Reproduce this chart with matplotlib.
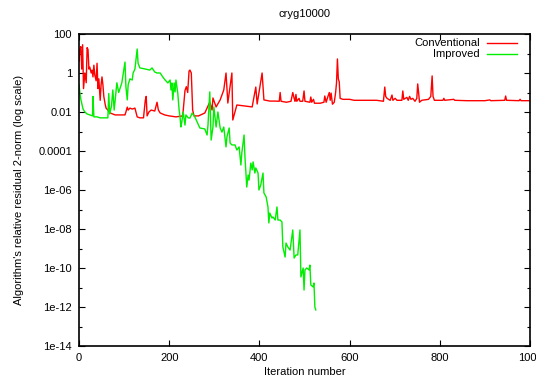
import numpy as np
import matplotlib
matplotlib.use("Agg")
import matplotlib.pyplot as plt
from matplotlib.lines import Line2D
from matplotlib.ticker import NullFormatter

plt.rcParams['font.family'] = ['Liberation Sans', 'DejaVu Sans']

title = "cryg10000"
xlabel = "Iteration number"
ylabel = "Algorithm's relative residual 2-norm (log scale)"
series_names = ["Conventional", "Improved"]

# Conventional: iteration numbers and log10 of residual
conv_iter = [0, 2, 4, 6, 8, 10, 13, 16, 18, 20, 22, 24, 27, 29, 31, 33, 35, 38, 40, 42,
             44, 47, 49, 51, 53, 55, 58, 60, 64, 69, 80, 95, 102, 104, 107, 109, 113, 118,
             124, 129, 135, 143, 147, 149, 151, 155, 160, 168, 173, 176, 180, 190, 200,
             215, 230, 235, 238, 241, 244, 246, 249, 252, 255, 265, 279, 290, 295, 297,
             304, 313, 321, 326, 330, 339, 341, 350, 368, 384, 392, 395, 406, 410, 423,
             435, 444, 446, 448, 460, 470, 474, 477, 479, 481, 483, 488, 490, 496, 499,
             501, 512, 514, 516, 520, 522, 535, 543, 545, 548, 552, 555, 557, 559, 562,
             566, 569, 571, 573, 575, 577, 579, 585, 600, 610, 625, 640, 660, 675, 678,
             680, 683, 690, 694, 696, 701, 705, 716, 718, 720, 727, 730, 733, 736, 740,
             745, 749, 751, 753, 755, 760, 775, 780, 783, 785, 788, 795, 807, 809, 811,
             831, 833, 860, 900, 911, 913, 944, 946, 948, 976, 978, 980, 1000]
conv_log10 = [0.6, 1.2, 1.35, 0.2, 1.45, -0.8, 0.0, -0.5, 1.3, 1.2, 0.2, 0.3, 0.0, 0.15,
              -0.2, 0.4, -0.1, -0.4, 0.5, -0.8, -0.3, -1.4, -0.6, -0.2, -0.6, -1.2, -1.6,
              -1.8, -1.9, -2.05, -2.15, -2.15, -2.15, -2.0, -1.75, -1.9, -1.8, -1.85, -1.8,
              -2.25, -2.3, -2.3, -1.4, -1.2, -2.2, -2.0, -1.9, -1.95, -1.5, -1.9, -2.05,
              -2.15, -2.2, -2.25, -2.2, -0.9, -0.7, -1.0, 0.1, 0.15, 0.0, -1.9, -2.2,
              -2.2, -2.05, -1.49, -1.9, -1.28, -1.74, -1.38, -0.87, 0.0, -1.54, 0.0,
              -2.41, -1.64, -1.69, -1.74, -0.72, -1.59, 0.0, -1.38, -1.44,
              -1.44, -1.45, -1.0, -1.45, -1.5, -1.45, -1.0, -1.3, -1.45, -1.1, -1.45,
              -1.3, -1.45, -1.45, -0.92, -1.45, -1.5, -1.23, -1.5, -1.35, -1.55, -1.55,
              -1.5, -1.18, -1.5, -1.2, -1.0, -1.4, -1.03, -1.6, -1.5, -1.0, -0.5, 0.72,
              -0.3, -0.45, -1.3, -1.35, -1.35, -1.4, -1.4, -1.4, -1.4, -1.45, -0.72,
              -1.2, -1.3, -1.4, -1.13, -1.4, -1.3, -1.4, -1.4, -0.92, -1.35, -1.25, -1.4,
              -1.2, -1.35, -1.3, -1.45, -1.3, -0.56, -1.0, -1.5, -1.4, -1.35, -1.2,
              -0.15, -1.2, -1.4, -1.4, -1.4, -1.3, -1.4, -1.35, -1.4, -1.42, -1.42,
              -1.38, -1.42, -1.4, -1.18, -1.4, -1.42, -1.35, -1.42, -1.42]

# Improved: iteration numbers and log10 of residual
impr_iter = [0, 2, 4, 7, 9, 13, 18, 24, 30, 31, 33, 40, 47, 55, 64, 66, 68, 72, 75, 78,
             84, 88, 95, 102, 104, 107, 109, 113, 118, 120, 124, 129, 131, 135, 146, 157,
             162, 168, 173, 180, 186, 191, 197, 202, 204, 206, 208, 211, 213, 215, 219,
             222, 224, 226, 228, 231, 235, 237, 242, 246, 251, 257, 268, 279, 284, 286,
             290, 293, 297, 299, 304, 308, 313, 317, 321, 326, 328, 333, 335, 339, 346,
             350, 355, 359, 361, 366, 368, 370, 372, 375, 377, 381, 384, 386, 390, 392,
             397, 399, 403, 408, 410, 415, 419, 421, 423, 428, 430, 435, 439, 441, 446,
             450, 452, 457, 459, 463, 468, 474, 477, 481, 485, 490, 492, 497, 499, 501,
             505, 510, 512, 514, 519, 521, 523, 525]
impr_log10 = [-0.6, -1.0, -1.35, -1.65, -1.85, -2.0, -2.1, -2.15, -2.2, -1.2, -2.25, -2.25,
              -2.3, -2.3, -2.3, -1.05, -2.1, -1.7, -0.87, -1.9, -0.5, -1.0, -0.5, 0.56,
              -0.7, -1.38, -0.6, -0.3, -0.36, 0.0, 0.2, 1.23, 0.5, 0.26, 0.21, 0.15, 0.26,
              0.05, 0.0, 0.0, -0.21, -0.36, -0.51, -0.36, -0.87, -0.51, -1.38, -0.51,
              -0.97, -0.36, -1.03, -1.9, -2.26, -2.77, -2.51, -2.0, -2.67, -2.15, -2.3,
              -2.31, -2.05, -2.26, -2.82, -2.87, -3.18, -2.67, -0.97, -3.44, -2.77,
              -1.74, -2.77, -2.0, -2.82, -3.03, -2.77, -3.79, -3.28, -2.82, -3.59,
              -3.69, -3.69, -3.95, -3.79, -4.72, -4.1, -3.18, -4.31, -5.13, -5.85,
              -5.23, -5.49, -4.62, -4.97, -4.56, -5.13, -4.87, -5.13, -6.0, -5.74,
              -5.13, -6.15, -6.36, -6.87, -7.69, -7.18, -7.44, -7.38, -7.54, -6.87,
              -7.54, -7.54, -7.64, -8.92, -9.44, -8.72, -8.92, -9.08, -8.05, -9.49,
              -9.33, -9.33, -8.05, -10.46, -10.0, -11.13, -10.1, -10.0, -10.1, -9.85,
              -10.87, -10.97, -10.77, -12.0, -12.15]

x_ticks = [0, 200, 400, 600, 800, 1000]
y_major = [1e2, 1e0, 1e-2, 1e-4, 1e-6, 1e-8, 1e-10, 1e-12, 1e-14]
y_major_labels = ["100", "1", "0.01", "0.0001", "1e-06", "1e-08", "1e-10", "1e-12", "1e-14"]
y_minor = [1e1, 1e-1, 1e-3, 1e-5, 1e-7, 1e-9, 1e-11, 1e-13]

red = "#ff0000"
green = "#00ee00"

fig = plt.figure(figsize=(5.36, 3.78), dpi=100)
ax = fig.add_axes([79/536, 32/378, 451/536, 312/378])

ax.plot(conv_iter, 10.0 ** np.array(conv_log10), color=red, lw=1.0)
ax.plot(impr_iter, 10.0 ** np.array(impr_log10), color=green, lw=1.0)

ax.set_yscale('log')
ax.set_xlim(0, 1000)
ax.set_ylim(1e-14, 1e2)
ax.set_xticks(x_ticks)
ax.set_xticklabels([str(t) for t in x_ticks])
ax.set_yticks(y_major)
ax.set_yticklabels(y_major_labels)
ax.set_yticks(y_minor, minor=True)
ax.yaxis.set_minor_formatter(NullFormatter())
ax.set_xticks([], minor=True)
ax.tick_params(which='both', direction='in', top=True, right=True, labelsize=8,
               colors='black', pad=5)
ax.tick_params(which='major', length=4.5, width=0.8)
ax.tick_params(which='minor', length=2.5, width=0.8)
for s in ax.spines.values():
    s.set_linewidth(1.2)

ax.set_title(title, fontsize=8, pad=12)
ax.set_xlabel(xlabel, fontsize=8, labelpad=3)
ax.set_ylabel(ylabel, fontsize=8, labelpad=10)

# gnuplot-style key: right-aligned text followed by line sample
for i, (name, col) in enumerate(zip(series_names, [red, green])):
    yk = 0.971 - i * 0.035
    ax.text(0.889, yk, name, transform=ax.transAxes, ha='right', va='center', fontsize=8)
    ax.add_line(Line2D([0.905, 0.971], [yk, yk], transform=ax.transAxes, color=col, lw=1.0))

fig.savefig("out.png", dpi=100)
